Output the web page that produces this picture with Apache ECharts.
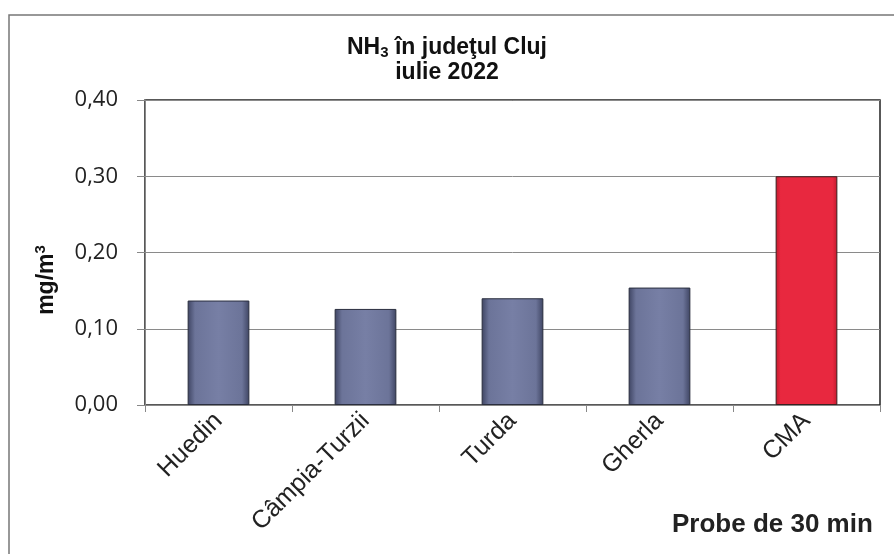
<!DOCTYPE html>
<html>
<head>
<meta charset="utf-8">
<script src="https://cdn.jsdelivr.net/npm/echarts@6/dist/echarts.min.js"></script>
<style>html,body{margin:0;padding:0;background:#fff}#c{width:894px;height:554px}</style>
</head>
<body>
<div id="c"></div>
<script>
const categories = ['Huedin', 'Câmpia-Turzii', 'Turda', 'Gherla', 'CMA'];
const values = [0.137, 0.126, 0.140, 0.154, 0.300];
const yTicks = [0, 0.1, 0.2, 0.3, 0.4];
const highlighted = 'CMA';

const blueFill = new echarts.graphic.LinearGradient(0, 0, 1, 0, [
  {offset: 0, color: '#3e4462'}, {offset: 0.12, color: '#6c7499'},
  {offset: 0.5, color: '#777fa5'}, {offset: 0.88, color: '#6c7499'}, {offset: 1, color: '#3e4462'}
]);
const redFill = new echarts.graphic.LinearGradient(0, 0, 1, 0, [
  {offset: 0, color: '#c21a2e'}, {offset: 0.08, color: '#e8283f'},
  {offset: 0.92, color: '#e8283f'}, {offset: 1, color: '#c21a2e'}
]);

const chart = echarts.init(document.getElementById('c'), null, {renderer: 'canvas'});
chart.setOption({
  backgroundColor: '#fff',
  animation: false,
  title: {
    text: 'NH{sub|3} în judeţul Cluj\niulie 2022',
    left: 'center', top: 30,
    textStyle: {
      fontFamily: 'Liberation Sans', fontSize: 23, fontWeight: 'bold', color: '#111', lineHeight: 25,
      rich: {sub: {fontFamily: 'Liberation Sans', fontSize: 15, fontWeight: 'bold', verticalAlign: 'bottom', padding: [10, 0, 0, 0], color: '#111'}}
    }
  },
  graphic: [
    {type: 'rect', shape: {x: 9, y: 15, width: 900, height: 600}, style: {fill: 'none', stroke: '#777', lineWidth: 1.5}, z: -1},
    {type: 'text', left: 672, top: 512, style: {text: 'Probe de 30 min', font: 'bold 26px "Liberation Sans"', fill: '#222'}},
    {type: 'text', x: 47, y: 280, rotation: Math.PI / 2,
      style: {text: 'mg/m{sup|3}', align: 'center', verticalAlign: 'middle',
        font: 'bold 23px "Liberation Sans"', fill: '#111',
        rich: {sup: {fontFamily: 'Liberation Sans', fontSize: 15, fontWeight: 'bold', verticalAlign: 'top', padding: [0, 0, 12, 0], fill: '#111'}}}}
  ],
  grid: {left: 145, right: 14, top: 100, bottom: 149, show: true, borderColor: '#222', borderWidth: 1.5},
  xAxis: {
    type: 'category', data: categories,
    axisLine: {lineStyle: {color: '#888', width: 1}},
    axisTick: {show: true, length: 7, lineStyle: {color: '#888'}},
    axisLabel: {rotate: 45, margin: 12, color: '#222', fontFamily: 'Liberation Sans', fontSize: 25}
  },
  yAxis: {
    type: 'value', min: 0, max: 0.4, interval: 0.1,
    axisLine: {show: true, lineStyle: {color: '#888'}},
    axisTick: {show: true, inside: false, length: 8, lineStyle: {color: '#888'}},
    axisLabel: {margin: 27, color: '#222', fontFamily: 'Open Sans', fontSize: 22,
      formatter: v => yTicks.some(t => Math.abs(t - v) < 1e-9) ? v.toFixed(2).replace('.', ',') : ''},
    splitLine: {show: true, lineStyle: {color: '#8a8a8a', width: 1}}
  },
  series: [{
    type: 'bar', barCategoryGap: '58%',
    data: values.map((v, i) => ({
      value: v,
      itemStyle: {color: categories[i] === highlighted ? redFill : blueFill,
        borderColor: categories[i] === highlighted ? '#3a2020' : '#2a2e3e', borderWidth: 1}
    }))
  }]
});
</script>
</body>
</html>
